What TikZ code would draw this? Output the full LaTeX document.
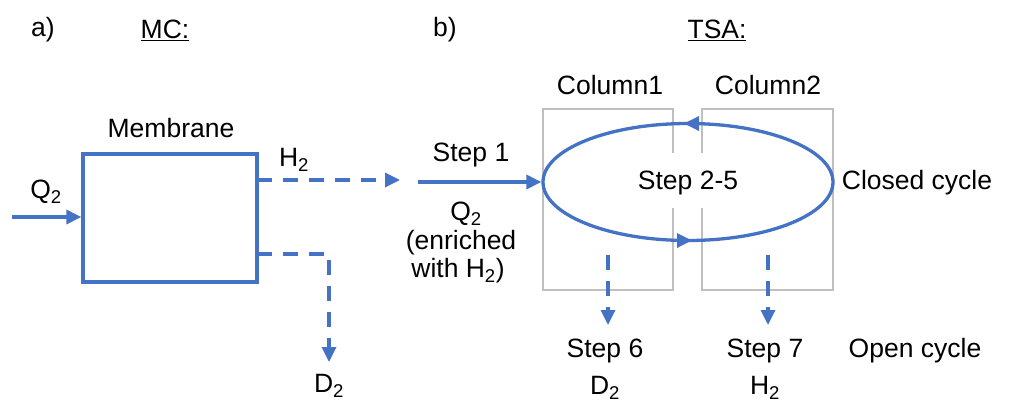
\documentclass[tikz,border=0pt]{standalone}
\usepackage{fontspec}
\setmainfont{Liberation Sans}
\usetikzlibrary{arrows.meta,shapes.geometric}
\definecolor{flow}{HTML}{4472C4}
\definecolor{colgray}{HTML}{BFBFBF}
\tikzset{
  x=1pt, y=-1pt,
  lbl/.style={font=\fontsize{26.5}{30}\selectfont, inner sep=0pt, anchor=center},
  flowline/.style={draw=flow, line width=3.3pt},
  tip/.style={-{Triangle[length=15pt,width=14pt]}},
  dashflow/.style={flowline, dash pattern=on 15pt off 11pt},
  colbox/.style={draw=colgray, line width=2.2pt},
}
\begin{document}
\begin{tikzpicture}
\useasboundingbox (0,0) rectangle (1009,408);

% headings
\node[lbl] (ha) at (43,30) {a)};
\node[lbl] (hmc) at (165,30) {\underline{MC:}};
\node[lbl] (hb) at (445,30) {b)};
\node[lbl] (htsa) at (717,30) {\underline{TSA:}};

% membrane unit
\node[draw=flow, line width=3.3pt, minimum width=174pt, minimum height=128pt, inner sep=0pt] (mem) at (170,218) {};
\node[lbl] (memlbl) at (171,128) {Membrane};
\coordinate (qin) at (12,217);
\node[lbl] (q2a) at (46,192) {Q\textsubscript{2}};
\draw[flowline, tip] (qin) -- (qin -| mem.west);

% membrane outlets
\coordinate (hout) at (257,180);
\coordinate (hend) at (400,180);
\node[lbl] (h2a) at (294,160) {H\textsubscript{2}};
\draw[dashflow, tip] (hout) -- (hend);
\coordinate (dout) at (257,254);
\coordinate (dend) at (329,362);
\node[lbl] (d2a) at (329,386) {D\textsubscript{2}};
\draw[dashflow, tip] (dout) -| (dend);

% columns
\draw[colbox] (673,153) -- (673,109) -- (543,109) -- (543,290) -- (673,290) -- (673,208);
\draw[colbox] (702,153) -- (702,109) -- (833,109) -- (833,290) -- (702,290) -- (702,208);
\node[lbl] (c1) at (610,85) {Column1};
\node[lbl] (c2) at (768,85) {Column2};

% closed cycle
\node[ellipse, draw=flow, line width=3.3pt, minimum width=290pt, minimum height=117pt, inner sep=0pt] (cyc) at (688,182) {};
\node[lbl] (s25) at (688,183) {Step 2-5};
\draw[flowline, tip] (699,123.5) -- (684,123.5);
\draw[flowline, tip] (677,240.5) -- (692,240.5);
\node[lbl] (closed) at (917,183) {Closed cycle};

% feed step
\coordinate (fin) at (418,182);
\draw[flowline, tip] (fin) -- (cyc.west);
\node[lbl] (s1) at (471,155) {Step 1};
\node[lbl] (q2b) at (466,214) {Q\textsubscript{2}};
\node[lbl] (enr) at (461,243) {(enriched};
\node[lbl] (wh) at (458,271) {with H\textsubscript{2})};

% open cycle
\coordinate (o6) at (608,255);
\coordinate (o6e) at (608,325);
\coordinate (o7) at (768,255);
\coordinate (o7e) at (768,325);
\draw[dashflow, tip] (o6) -- (o6e);
\draw[dashflow, tip] (o7) -- (o7e);
\node[lbl] (s6) at (605,351) {Step 6};
\node[lbl] (s7) at (765,351) {Step 7};
\node[lbl] (open) at (915,351) {Open cycle};
\node[lbl] (d2b) at (605,388) {D\textsubscript{2}};
\node[lbl] (h2b) at (765,388) {H\textsubscript{2}};
\end{tikzpicture}
\end{document}
